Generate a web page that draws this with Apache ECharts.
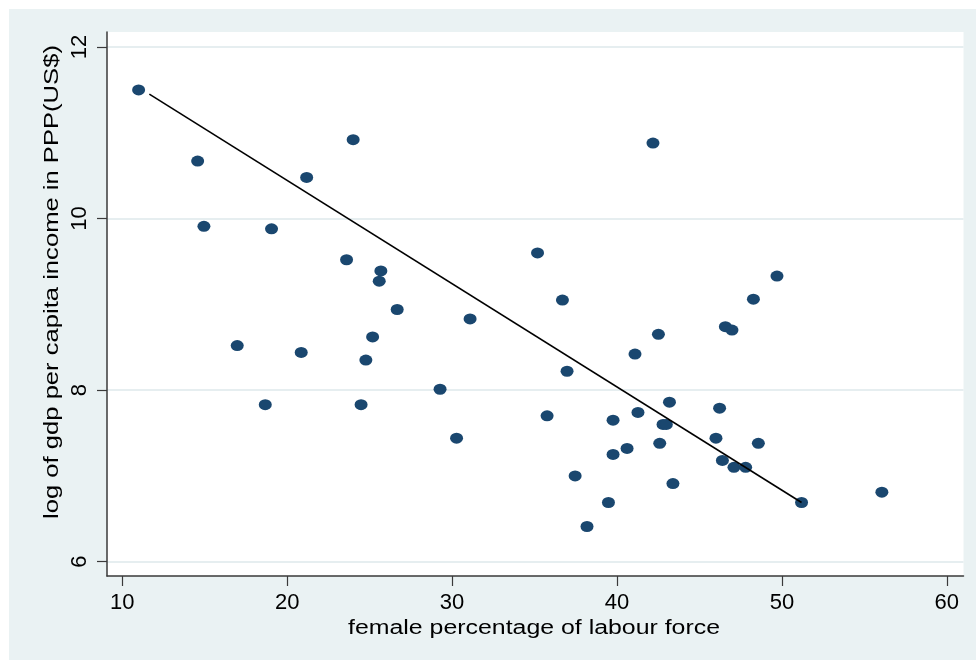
<!DOCTYPE html>
<html>
<head>
<meta charset="utf-8">
<script src="https://cdn.jsdelivr.net/npm/echarts@6/dist/echarts.min.js"></script>
<style>
  html, body { margin: 0; padding: 0; background: #ffffff; }
  #chart { width: 976px; height: 660px; background: #EAF2F3; box-shadow: inset 9px 9px 0 #ffffff; }
</style>
</head>
<body>
<div id="chart"></div>
<script>
// ---- data ----
const xTickValues = [10, 20, 30, 40, 50, 60];
const yTickValues = [6, 8, 10, 12];
const femaleLabourPct = [
  10.99, 14.57, 14.95, 16.97, 18.67, 19.05, 20.85, 21.18, 24.00, 23.60,
  25.68, 25.58, 26.67, 25.18, 24.77, 24.48, 29.27, 30.27, 31.09, 35.18,
  36.69, 36.97, 35.76, 37.46, 39.48, 38.18, 39.76, 39.76, 40.61, 41.27,
  41.09, 42.51, 42.18, 43.18, 42.79, 42.99, 42.59, 43.39, 46.22, 46.00,
  46.57, 46.97, 46.39, 47.09, 47.80, 48.27, 49.70, 48.57, 51.19, 56.06
];
const logGdpPpp = [
  11.50, 10.67, 9.91, 8.52, 7.83, 9.88, 8.44, 10.48, 10.92, 9.52,
  9.39, 9.27, 8.94, 8.62, 8.35, 7.83, 8.01, 7.44, 8.83, 9.60,
  9.05, 8.22, 7.70, 7.00, 6.69, 6.41, 7.65, 7.25, 7.32, 7.74,
  8.42, 8.65, 10.88, 7.86, 7.60, 7.60, 7.38, 6.91, 7.79, 7.44,
  8.74, 8.70, 7.18, 7.10, 7.10, 9.06, 9.33, 7.38, 6.69, 6.81
];
const fitX = [11.64, 51.19];
const fitY = [11.45, 6.69];
const xTitle = 'female percentage of labour force';
const yTitle = 'log of gdp per capita income in PPP(US$)';

// ---- chart ----
const scatterData = femaleLabourPct.map((x, i) => [x, logGdpPpp[i]]);
const fitData = fitX.map((x, i) => [x, fitY[i]]);

const axisColor = '#3a3a3a';
const labelFont = { fontFamily: 'Liberation Sans', fontSize: 22, color: '#000' };

const chart = echarts.init(document.getElementById('chart'), null, { renderer: 'canvas' });
chart.setOption({
  backgroundColor: 'transparent',
  animation: false,
  grid: {
    left: 107, top: 32, right: 12.5, bottom: 84,
    show: true, backgroundColor: '#ffffff', borderWidth: 0,
    containLabel: false, outerBoundsMode: 'none'
  },
  xAxis: {
    type: 'value', min: 9.073, max: 61.01,
    axisLine: { show: true, onZero: false, lineStyle: { color: axisColor, width: 1.5 } },
    axisTick: { show: true, length: 10, inside: false, customValues: xTickValues, lineStyle: { color: axisColor, width: 1.2 } },
    axisLabel: Object.assign({ show: true, margin: 16, customValues: xTickValues, showMinLabel: true, showMaxLabel: true }, labelFont),
    splitLine: { show: false }
  },
  yAxis: {
    type: 'value', min: 5.833, max: 12.175,
    axisLine: { show: true, onZero: false, lineStyle: { color: axisColor, width: 1.5 } },
    axisTick: { show: true, length: 10, inside: false, customValues: yTickValues, lineStyle: { color: axisColor, width: 1.2 } },
    axisLabel: Object.assign({ show: true, margin: 16, rotate: 90, customValues: yTickValues, showMinLabel: true, showMaxLabel: true }, labelFont),
    splitLine: { show: true, lineStyle: { color: '#E6EEF0', width: 2 } }
  },
  graphic: [
    {
      type: 'text', x: 534, y: 628, scaleX: 1.244,
      style: {
        text: xTitle, fontFamily: 'Liberation Sans', fontSize: 20, fill: '#000',
        textAlign: 'center', textVerticalAlign: 'middle', align: 'center', verticalAlign: 'middle'
      }
    },
    {
      type: 'text', x: 52, y: 282, rotation: Math.PI / 2, scaleX: 1.28,
      style: {
        text: yTitle, fontFamily: 'Liberation Sans', fontSize: 20, fill: '#000',
        textAlign: 'center', textVerticalAlign: 'middle', align: 'center', verticalAlign: 'middle'
      }
    }
  ],
  series: [
    {
      type: 'scatter',
      data: scatterData,
      symbol: 'circle',
      symbolSize: [13, 11],
      itemStyle: { color: '#1A476F', opacity: 1 },
      z: 3
    },
    {
      type: 'line',
      data: fitData,
      symbol: 'none',
      lineStyle: { color: '#000000', width: 1.6 },
      z: 4
    }
  ]
});
</script>
</body>
</html>
